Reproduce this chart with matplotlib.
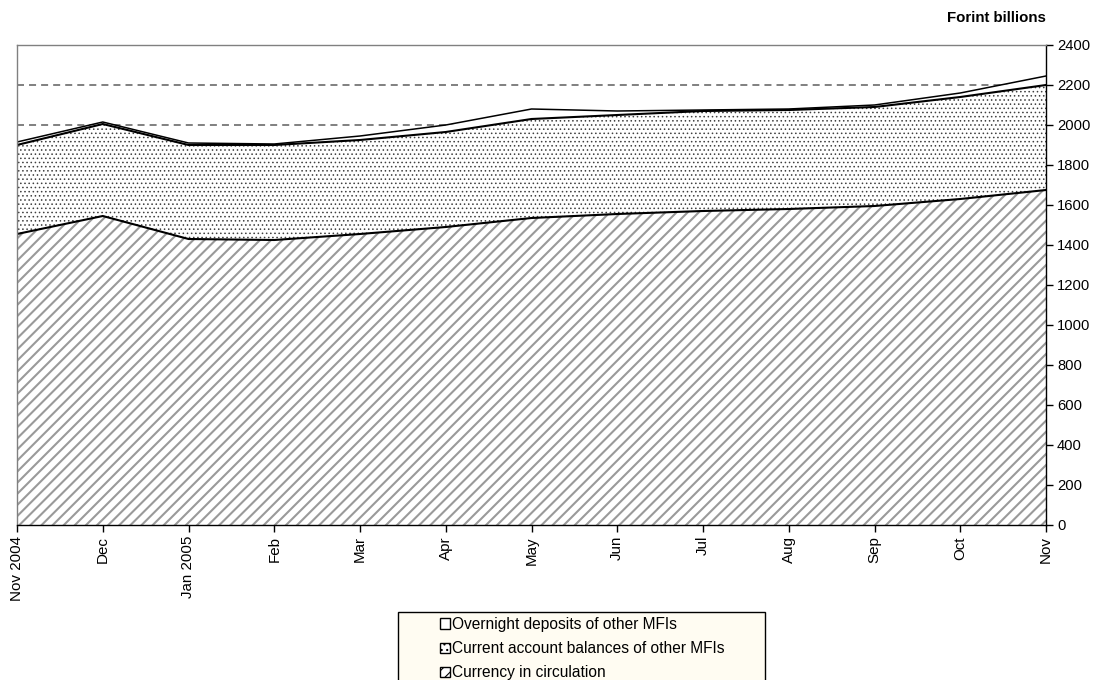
import matplotlib
matplotlib.use("Agg")
import matplotlib.pyplot as plt
from matplotlib.patches import Patch, Rectangle
import numpy as np

plt.rcParams['font.family'] = ['Liberation Sans', 'DejaVu Sans']

months = ["Nov 2004", "Dec", "Jan 2005", "Feb", "Mar", "Apr", "May", "Jun",
          "Jul", "Aug", "Sep", "Oct", "Nov"]
currency = [1455, 1545, 1430, 1425, 1455, 1490, 1535, 1555, 1570, 1580, 1595, 1630, 1675]
current_account = [445, 460, 470, 475, 470, 475, 495, 495, 500, 495, 495, 510, 525]
overnight = [15, 10, 10, 5, 20, 35, 50, 20, 5, 5, 10, 20, 45]

y_ticks = list(range(0, 2401, 200))
grid_levels = [2000, 2200]

x = np.arange(len(months))
c1 = np.array(currency)
c2 = c1 + np.array(current_account)
c3 = c2 + np.array(overnight)

W, H = 1095, 680
fig = plt.figure(figsize=(W/100, H/100), dpi=100)
ax = fig.add_axes([17/W, 1-525/H, (1046-17)/W, (525-45)/H])

plt.rcParams['hatch.linewidth'] = 1.5
ax.fill_between(x, 0, c1, facecolor='white', edgecolor='#9a9a9a', hatch='///', linewidth=0, zorder=1)
plt.rcParams['hatch.linewidth'] = 0.6
ax.fill_between(x, c1, c2, facecolor='white', edgecolor='#404040', hatch='....', linewidth=0, zorder=1)
ax.fill_between(x, c2, c3, facecolor='white', edgecolor='white', linewidth=0, zorder=1)

for lv in grid_levels:
    ax.axhline(lv, color='#808080', lw=1.4, ls=(0, (3.6, 2.6)), zorder=0.5)

ax.plot(x, c1, color='black', lw=1.5, zorder=3)
ax.plot(x, c2, color='black', lw=1.5, zorder=3)
ax.plot(x, c3, color='black', lw=1.1, zorder=3)

ax.set_xlim(0, len(months)-1)
ax.set_ylim(0, 2400)
ax.set_xticks(x)
ax.set_xticklabels(months, rotation=90, fontsize=10.9)
ax.yaxis.tick_right()
ax.set_yticks(y_ticks)
ax.set_yticklabels([str(v) for v in y_ticks], fontsize=10.6)
ax.tick_params(axis='both', direction='out', length=5, width=1, color='black')
ax.tick_params(axis='y', pad=3)
ax.tick_params(axis='x', pad=3)

ax.spines['top'].set_color('#808080')
ax.spines['left'].set_color('#808080')
ax.spines['right'].set_color('black')
ax.spines['bottom'].set_color('black')
for s in ax.spines.values():
    s.set_linewidth(1.0)
    s.set_zorder(4)

fig.text(996/W, 1-18/H, "Forint billions", ha='center', va='center',
         fontsize=10.8, fontweight='bold')

# legend frame (extends below the figure edge as in the reference)
fig.patches.append(Rectangle((398/W, 1-700/H), (765-398)/W, (700-612)/H,
                             transform=fig.transFigure, facecolor='#fffcf2',
                             edgecolor='black', linewidth=1.0, zorder=0))

plt.rcParams['hatch.linewidth'] = 0.8
handles = [
    Patch(facecolor='white', edgecolor='black', label='Overnight deposits of other MFIs'),
    Patch(facecolor='white', edgecolor='black', hatch='...', label='Current account balances of other MFIs'),
    Patch(facecolor='white', edgecolor='black', hatch='///', label='Currency in circulation'),
]
leg = fig.legend(handles=handles, loc='upper left', bbox_to_anchor=(440/W, 1-617/H),
                 fontsize=11.2, frameon=False, handlelength=0.62, handleheight=0.62,
                 handletextpad=0.18, labelspacing=0.58, borderpad=0,
                 borderaxespad=0)

fig.savefig("out.png", dpi=100)
